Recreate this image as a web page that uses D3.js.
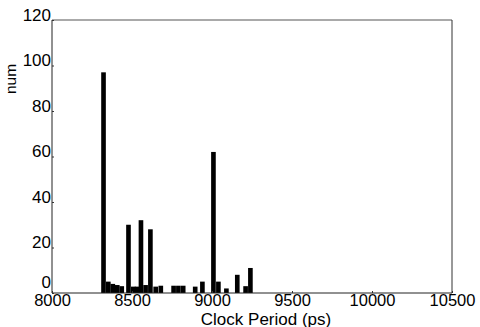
<!DOCTYPE html>
<html><head><meta charset="utf-8">
<script src="https://cdn.jsdelivr.net/npm/d3@7"></script>
<style>body{margin:0;background:#fff}svg{display:block}text{font-family:"Liberation Sans",Arial,sans-serif;fill:#000}</style>
</head><body><svg id="c" width="480" height="327"></svg>
<script>
// Data
const periods = [8322, 8352, 8380, 8408, 8436, 8478, 8508, 8532, 8556, 8585, 8615, 8648, 8680, 8760, 8790, 8820, 8895, 8940, 9009, 9040, 9090, 9158, 9210, 9240];
const counts  = [97,   5,    4,    3.5,  3,    30,   2.8,  2.8,  32,   3.5,  28,   2.8,  3.2,  3.2,  3.2,  3.2,  2.8,  5,    62,   5,    2,    8,    3,    11];
const xTicks = [8000, 8500, 9000, 9500, 10000, 10500];
const yTicks = [0, 20, 40, 60, 80, 100, 120];
const binWidth = 29;

const svg = d3.select("#c");
const m = {l: 52, r: 452, t: 20, b: 293};
const x = d3.scaleLinear().domain([8000, 10500]).range([m.l, m.r]);
const y = d3.scaleLinear().domain([0, 120]).range([m.b, m.t]);

// bars
svg.append("g").selectAll("rect").data(periods).join("rect")
  .attr("x", (d) => x(d - binWidth / 2))
  .attr("width", (d) => x(d + binWidth / 2) - x(d - binWidth / 2))
  .attr("y", (d, i) => y(counts[i]))
  .attr("height", (d, i) => y(0) - y(counts[i]))
  .attr("fill", "#000");

// frame
svg.append("line").attr("x1", m.l).attr("x2", m.r).attr("y1", m.t).attr("y2", m.t).attr("stroke", "#555");
svg.append("line").attr("x1", m.r).attr("x2", m.r).attr("y1", m.t).attr("y2", m.b).attr("stroke", "#333");
svg.append("line").attr("x1", m.l).attr("x2", m.l).attr("y1", m.t).attr("y2", m.b).attr("stroke", "#222");
svg.append("line").attr("x1", m.l).attr("x2", m.r).attr("y1", m.b).attr("y2", m.b).attr("stroke", "#222");

// axes
const xa = svg.append("g").attr("transform", `translate(0,${m.b})`)
  .call(d3.axisBottom(x).tickValues(xTicks).tickSize(-2).tickPadding(3).tickFormat(d3.format("d")));
xa.select(".domain").remove();
xa.selectAll("text").attr("font-size", 16.5).attr("dy", "0.72em").attr("y", 1);
xa.selectAll("line").attr("stroke", "#333");

const ya = svg.append("g").attr("transform", `translate(${m.l},0)`)
  .call(d3.axisLeft(y).tickValues(yTicks).tickSize(-2).tickPadding(2));
ya.select(".domain").remove();
ya.selectAll("text").attr("font-size", 17).attr("dy", "0").attr("x", -1)
  .attr("y", (d) => d === 0 ? -6 : 0);
ya.selectAll("line").attr("stroke", "#333");

svg.append("text").attr("x", 266).attr("y", 324.5).attr("text-anchor", "middle")
  .attr("font-size", 17).text("Clock Period (ps)");
svg.append("text").attr("transform", "translate(16,79) rotate(-90)").attr("text-anchor", "middle")
  .attr("font-size", 15.5).text("num");
</script></body></html>
